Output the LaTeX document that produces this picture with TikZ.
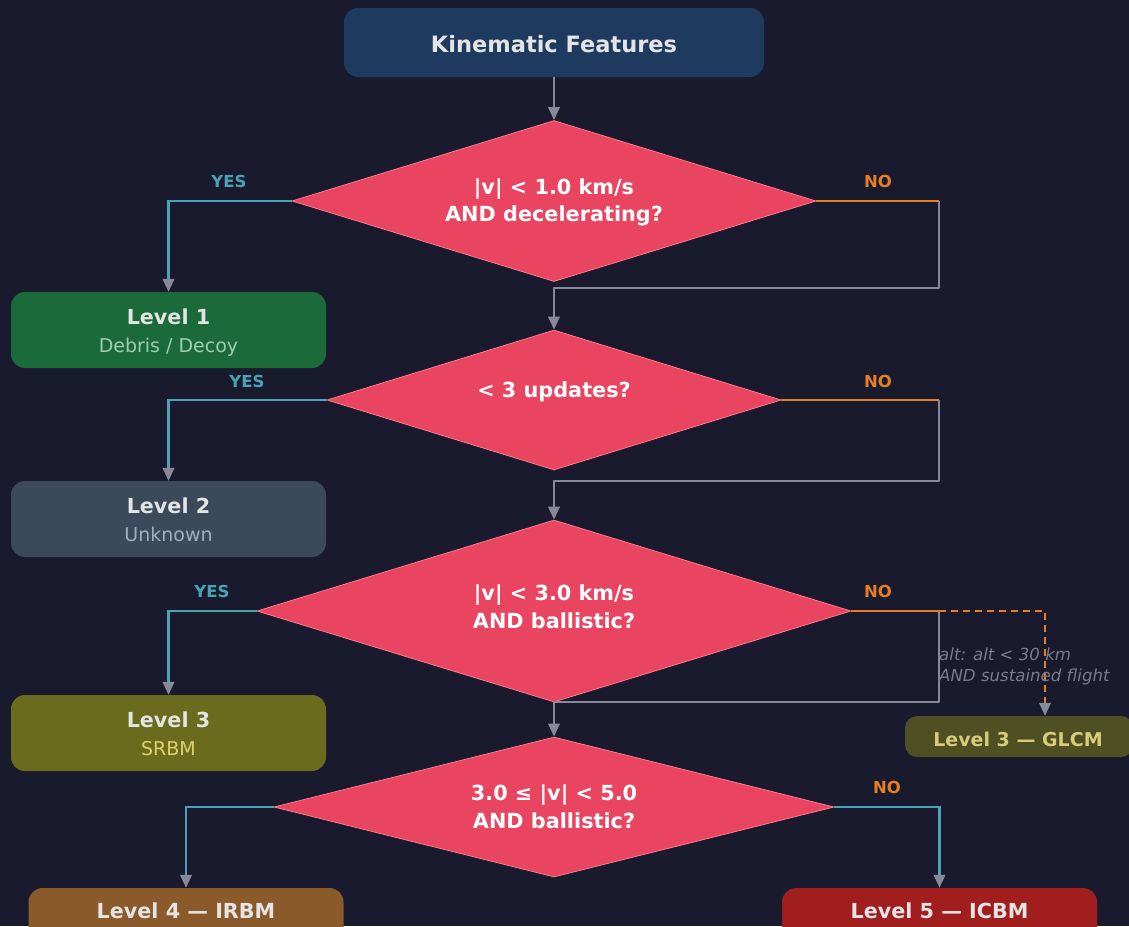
\documentclass[tikz,border=0pt]{standalone}
\usepackage{fontspec}
\setmainfont{DejaVu Sans}
\usetikzlibrary{shapes.geometric,arrows.meta}
\definecolor{bg}{RGB}{26,26,46}
\definecolor{titlefill}{RGB}{31,58,95}
\definecolor{dia}{RGB}{233,69,96}
\definecolor{diaedge}{RGB}{255,120,140}
\definecolor{teal}{RGB}{74,163,179}
\definecolor{orng}{RGB}{230,126,34}
\definecolor{cgray}{RGB}{136,136,152}
\definecolor{txt}{RGB}{228,228,228}
\definecolor{lvone}{RGB}{27,107,58}
\definecolor{lvonesub}{RGB}{160,205,172}
\definecolor{lvtwo}{RGB}{59,74,90}
\definecolor{lvtwosub}{RGB}{160,174,190}
\definecolor{lvthree}{RGB}{107,107,30}
\definecolor{lvthreesub}{RGB}{224,208,112}
\definecolor{glcmfill}{RGB}{79,79,36}
\definecolor{glcmtxt}{RGB}{216,204,120}
\definecolor{lvfour}{RGB}{139,90,43}
\definecolor{lvfive}{RGB}{160,30,30}
\definecolor{notetxt}{RGB}{122,122,140}
\begin{document}
\begin{tikzpicture}[x=1pt,y=-1pt,
  lvbox/.style={rectangle, rounded corners=14pt, minimum width=315pt, minimum height=76pt, inner sep=0pt},
  dec/.style={diamond, fill=dia, draw=diaedge, line width=0.8pt, inner sep=0pt},
  dectxt/.style={anchor=base, inner sep=0pt, text=white, font=\fontsize{20.8}{24}\selectfont\bfseries},
  lvtitle/.style={anchor=base, inner sep=0pt, text=txt, font=\fontsize{20.7}{24}\selectfont\bfseries},
  lvsub/.style={anchor=base, inner sep=0pt, font=\fontsize{19}{22}\selectfont},
  yeslbl/.style={anchor=base, inner sep=0pt, text=teal, font=\fontsize{16.5}{19}\selectfont\bfseries},
  nolbl/.style={anchor=base, inner sep=0pt, text=orng, font=\fontsize{16.5}{19}\selectfont\bfseries},
  notelbl/.style={anchor=base west, inner sep=0pt, text=notetxt, font=\fontsize{16.6}{19}\selectfont\itshape},
  conn/.style={line width=2.2pt, draw=cgray},
  yesline/.style={line width=2.2pt, draw=teal},
  noline/.style={line width=2.2pt, draw=orng},
  arr/.style={-{Triangle[length=13pt,width=11.5pt,color=cgray]}}
]
\clip (0,0) rectangle (1129,926);
\fill[bg] (0,0) rectangle (1129,926);

% title
\node[rectangle, rounded corners=14pt, minimum width=420pt, minimum height=69pt, fill=titlefill, inner sep=0pt] (title) at (554,42.5) {};
\node[anchor=base, inner sep=0pt, text=txt, font=\fontsize{22.5}{26}\selectfont\bfseries] (titletxt) at (554,52) {Kinematic Features};

% diamonds
\node[dec, minimum width=524pt, minimum height=161pt] (d1) at (554,201) {};
\node[dectxt] (d1a) at (554,194.5) {|v| < 1.0 km/s};
\node[dectxt] (d1b) at (554,221.5) {AND decelerating?};

\node[dec, minimum width=454pt, minimum height=140pt] (d2) at (554,400) {};
\node[dectxt] (d2a) at (554,397.5) {< 3 updates?};

\node[dec, minimum width=594pt, minimum height=182pt] (d3) at (554,611) {};
\node[dectxt] (d3a) at (554,600.5) {|v| < 3.0 km/s};
\node[dectxt] (d3b) at (554,628.5) {AND ballistic?};

\node[dec, minimum width=560pt, minimum height=140pt] (d4) at (554,807) {};
\node[dectxt] (d4a) at (554,800.5) {3.0 ≤ |v| < 5.0};
\node[dectxt] (d4b) at (554,828.5) {AND ballistic?};

% level boxes
\node[lvbox, fill=lvone] (l1) at (168.5,330) {};
\node[lvtitle] (l1a) at (168.5,324.5) {Level 1};
\node[lvsub, text=lvonesub] (l1b) at (168.5,352) {Debris / Decoy};

\node[lvbox, fill=lvtwo] (l2) at (168.5,519) {};
\node[lvtitle] (l2a) at (168.5,513.5) {Level 2};
\node[lvsub, text=lvtwosub] (l2b) at (168.5,541) {Unknown};

\node[lvbox, fill=lvthree] (l3) at (168.5,733) {};
\node[lvtitle] (l3a) at (168.5,727.5) {Level 3};
\node[lvsub, text=lvthreesub] (l3b) at (168.5,755) {SRBM};

\node[rectangle, rounded corners=12pt, minimum width=228pt, minimum height=41pt, inner sep=0pt, fill=glcmfill] (glcm) at (1019,736.5) {};
\node[anchor=base, inner sep=0pt, text=glcmtxt, font=\fontsize{19}{22}\selectfont\bfseries] (glcmt) at (1018,746) {Level 3 — GLCM};

\node[lvbox, fill=lvfour] (l4) at (186,926) {};
\node[lvtitle] (l4a) at (186,918.5) {Level 4 — IRBM};

\node[lvbox, fill=lvfive] (l5) at (939.5,926) {};
\node[lvtitle] (l5a) at (939.5,918.5) {Level 5 — ICBM};

% corner coordinates
\coordinate (c1) at (939,201);
\coordinate (j1) at (939,288);
\coordinate (c2) at (939,400);
\coordinate (j2) at (939,481);
\coordinate (c3) at (939,611);
\coordinate (j3) at (939,702);
\coordinate (g1) at (1045,611);
\coordinate (c4) at (939,807);

% connectors
\draw[conn, arr] (title.south) -- (d1.north);

\draw[yesline, arr] (d1.west) -| (l1.north);
\draw[noline] (d1.east) -- (c1);
\draw[conn, arr, line join=round] (c1) -- (j1) -| (d2.north);

\draw[yesline, arr] (d2.west) -| (l2.north);
\draw[noline] (d2.east) -- (c2);
\draw[conn, arr, line join=round] (c2) -- (j2) -| (d3.north);

\draw[yesline, arr] (d3.west) -| (l3.north);
\draw[noline] (d3.east) -- (c3);
\draw[conn, arr, line join=round] (c3) -- (j3) -| (d4.north);
\draw[noline, dash pattern=on 7pt off 5pt, arr] (c3) -- (g1) -- (g1 |- glcm.north);

\draw[yesline, arr] (d4.west) -| (l4.north);
\draw[yesline, arr] (d4.east) -| (l5.north);

% labels
\node[yeslbl] (y1) at (229,187) {YES};
\node[nolbl] (n1) at (878,187) {NO};
\node[yeslbl] (y2) at (247,387) {YES};
\node[nolbl] (n2) at (878,387) {NO};
\node[yeslbl] (y3) at (212,597) {YES};
\node[nolbl] (n3) at (878,597) {NO};
\node[nolbl] (n4) at (887,793) {NO};

\node[notelbl] (note1) at (939,660) {alt: alt < 30 km};
\node[notelbl] (note2) at (939,681) {AND sustained flight};
\end{tikzpicture}
\end{document}
